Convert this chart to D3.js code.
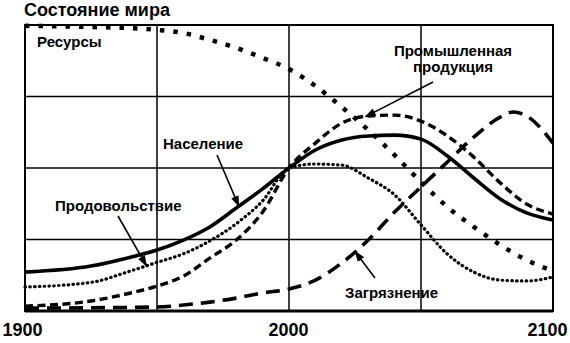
<!DOCTYPE html>
<html>
<head>
<meta charset="utf-8">
<script src="https://cdn.jsdelivr.net/npm/d3@7"></script>
<style>
  html, body { margin: 0; padding: 0; background: #fff; }
  svg { display: block; font-family: "Liberation Sans", Arial, sans-serif; }
</style>
</head>
<body>
<svg id="chart" width="570" height="343"></svg>
<script>
// Годы расчёта (шаг 10 лет, плюс пик загрязнения)
const years      = [1900, 1925, 1940, 1950, 1960, 1970, 1980, 1990, 2000, 2010, 2020, 2030, 2040, 2050, 2060, 2070, 2080, 2090, 2100];
// Относительные уровни (0–100 по высоте графика)
const resources  = [99.7, 99.3, 98.9, 98.3, 97.2, 94.8, 92.0, 88.5, 84.6, 78.7, 71.3, 63.3, 54.5, 45.1, 36.4, 29.4, 23.1, 17.8, 14.0];
const population = [13.6, 15.7, 18.8, 21.3, 24.8, 29.4, 36.0, 42.7, 50.0, 56.3, 59.8, 61.2, 61.5, 60.1, 54.2, 46.5, 39.2, 34.3, 31.8];
const food       = [ 8.4, 10.0, 14.0, 17.0, 20.0, 24.5, 30.5, 38.5, 50.0, 51.4, 51.0, 46.5, 40.6, 30.1, 19.9, 13.6, 10.8, 10.5, 11.9];
const production = [ 1.7,  3.5,  6.3,  8.7, 12.2, 18.5, 24.8, 34.6, 50.0, 58.7, 65.7, 68.2, 68.5, 66.4, 61.2, 53.8, 44.8, 37.4, 33.9];
const pollYears  = [1900, 1950, 1960, 1970, 1980, 1990, 2000, 2010, 2020, 2030, 2040, 2050, 2060, 2070, 2080, 2085, 2090, 2100];
const pollution  = [ 1.0,  1.4,  2.1,  3.1,  4.5,  6.3,  7.7, 10.8, 16.8, 24.8, 34.6, 43.4, 52.1, 60.8, 67.8, 69.6, 68.2, 58.7];

const xTicks     = [1900, 2000, 2100];
const xGrid      = [1950, 2000, 2050];
const yGrid      = [25, 50, 75];

const title = "Состояние мира";

const svg = d3.select("#chart");
const x = d3.scaleLinear().domain([1900, 2100]).range([25, 553]);
const y = d3.scaleLinear().domain([0, 100]).range([311, 25]);

// Заголовок
svg.append("text").attr("x", 24).attr("y", 16)
  .attr("font-size", 18).attr("font-weight", "bold").text(title);

// Сетка
const grid = svg.append("g").attr("stroke", "#000").attr("stroke-width", 1.5);
grid.selectAll(".vx").data(xGrid).join("line")
  .attr("x1", d => x(d)).attr("x2", d => x(d)).attr("y1", y(100)).attr("y2", y(0));
grid.selectAll(".hy").data(yGrid).join("line")
  .attr("x1", x(1900)).attr("x2", x(2100)).attr("y1", d => y(d)).attr("y2", d => y(d));

// Рамка
svg.append("rect").attr("x", x(1900)).attr("y", y(100))
  .attr("width", x(2100) - x(1900)).attr("height", y(0) - y(100))
  .attr("fill", "none").attr("stroke", "#000").attr("stroke-width", 2);
svg.append("line").attr("x1", x(1900)).attr("x2", x(2100)).attr("y1", y(0)).attr("y2", y(0))
  .attr("stroke", "#000").attr("stroke-width", 3);

// Ось лет
const axis = svg.append("g").attr("transform", `translate(0,${y(0)})`)
  .call(d3.axisBottom(x).tickValues(xTicks).tickSize(0).tickPadding(12).tickFormat(d3.format("d")));
axis.select(".domain").remove();
axis.selectAll("text").attr("font-size", 18).attr("font-weight", "bold").attr("fill", "#000")
  .attr("font-family", "Liberation Sans, Arial, sans-serif")
  .attr("text-anchor", d => d === 2100 ? "end" : "middle")
  .attr("dx", d => d === 2100 ? 14 : (d === 1900 ? -3 : -1));

// Кривые
const line = d3.line().curve(d3.curveMonotoneX).x(d => x(d[0])).y(d => y(d[1]));
const zip = (xs, vs) => xs.map((t, i) => [t, vs[i]]);

const series = [
  { data: zip(pollYears, pollution), width: 3.6, dash: "14,8", cap: "butt" },
  { data: zip(years, food),          width: 3.2, dash: "0.5,4.3", cap: "round" },
  { data: zip(years, production),    width: 3.4, dash: "8,4.5", cap: "butt" },
  { data: zip(years, population),    width: 3.6, dash: null, cap: "butt" },
  { data: zip(years, resources),     width: 4.5, dash: "4.5,9", cap: "butt" }
];
svg.append("g").selectAll("path").data(series).join("path")
  .attr("d", d => line(d.data))
  .attr("fill", "none").attr("stroke", "#000")
  .attr("stroke-width", d => d.width)
  .attr("stroke-linecap", d => d.cap)
  .attr("stroke-dasharray", d => d.dash);

// Подписи со стрелками
svg.append("defs").append("marker").attr("id", "arr")
  .attr("viewBox", "0 0 10 10").attr("refX", 9).attr("refY", 5)
  .attr("markerWidth", 7).attr("markerHeight", 7).attr("orient", "auto")
  .append("path").attr("d", "M0,1.5 L10,5 L0,8.5 Z").attr("fill", "#000");

const labels = [
  { lines: ["Ресурсы"], tx: 37, ty: 47, anchor: "start" },
  { lines: ["Промышленная", "продукция"], tx: 453, ty: 56, anchor: "middle",
    from: [433, 82], to: { yr: 2029, v: production, xs: years } },
  { lines: ["Население"], tx: 163, ty: 149, anchor: "start",
    from: [217, 155], to: { yr: 1981, v: population, xs: years } },
  { lines: ["Продовольствие"], tx: 55, ty: 211, anchor: "start",
    from: [118, 216], to: { yr: 1946, v: food, xs: years } },
  { lines: ["Загрязнение"], tx: 345, ty: 298, anchor: "start",
    from: [375, 278], to: { yr: 2025, v: pollution, xs: pollYears } }
];

const interp = (xs, vs, t) => {
  for (let i = 0; i < xs.length - 1; i++) {
    if (t >= xs[i] && t <= xs[i + 1]) {
      const k = (t - xs[i]) / (xs[i + 1] - xs[i]);
      return vs[i] + k * (vs[i + 1] - vs[i]);
    }
  }
  return vs[vs.length - 1];
};

const lg = svg.append("g");
labels.forEach(l => {
  const t = lg.append("text").attr("x", l.tx).attr("y", l.ty)
    .attr("font-size", 15).attr("font-weight", "bold").attr("text-anchor", l.anchor);
  l.lines.forEach((s, i) => t.append("tspan").attr("x", l.tx).attr("dy", i ? 16 : 0).text(s));
  if (l.from) {
    const px = x(l.to.yr), py = y(interp(l.to.xs, l.to.v, l.to.yr));
    lg.append("line").attr("x1", l.from[0]).attr("y1", l.from[1]).attr("x2", px).attr("y2", py)
      .attr("stroke", "#000").attr("stroke-width", 1.6).attr("marker-end", "url(#arr)");
  }
});
</script>
</body>
</html>
